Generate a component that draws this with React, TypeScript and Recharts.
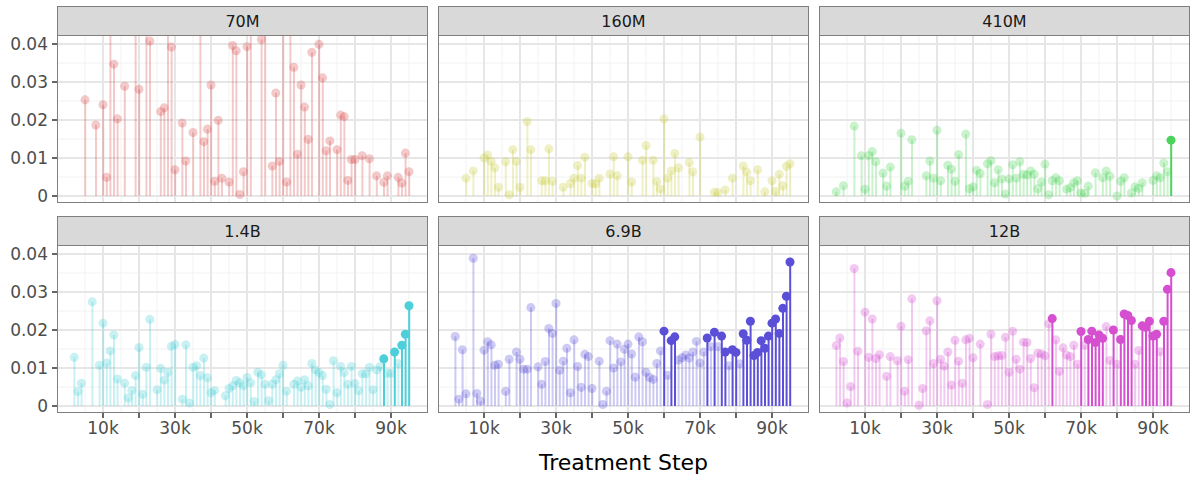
import React from "react";
import {
  ComposedChart,
  Bar,
  Scatter,
  XAxis,
  YAxis,
  CartesianGrid,
  Cell,
} from "recharts";

// Facet labels and colours
const MODELS = ["70M", "160M", "410M", "1.4B", "6.9B", "12B"];
const COLORS = ["#D94C4C", "#C9CC3F", "#4CD35A", "#4CCFD8", "#5B4FD8", "#D54FD0"];

// Steps are in thousands of training steps
const STEPS_70M = [5, 8, 10, 11, 12, 13, 14, 16, 19, 20, 22, 23, 26, 27, 28, 29, 30, 32, 33, 35, 37, 38, 39, 40, 41, 42, 43, 45, 46, 47, 48, 49, 50, 51, 54, 55, 57, 58, 59, 60, 61, 62, 63, 64, 65, 66, 67, 68, 70, 71, 72, 73, 75, 76, 77, 78, 79, 80, 82, 84, 86, 88, 89, 92, 93, 94, 95];
const VALUES_70M = [0.0253, 0.0187, 0.024, 0.0049, 0.055, 0.0347, 0.0203, 0.0289, 0.052, 0.0281, 0.058, 0.0408, 0.0222, 0.0232, 0.05, 0.0392, 0.0069, 0.0192, 0.0092, 0.0167, 0.06, 0.0143, 0.0176, 0.0292, 0.0039, 0.0199, 0.0047, 0.0037, 0.0396, 0.0382, 0.0004, 0.0064, 0.0393, 0.053, 0.0412, 0.056, 0.0079, 0.0271, 0.0091, 0.05, 0.0037, 0.054, 0.0339, 0.011, 0.0292, 0.0234, 0.0149, 0.0378, 0.0399, 0.0311, 0.0119, 0.0145, 0.0122, 0.0213, 0.0209, 0.0041, 0.0096, 0.0096, 0.0106, 0.0098, 0.0053, 0.0036, 0.0053, 0.0049, 0.0034, 0.0113, 0.0064];
const HIGHLIGHT_70M: number[] = [];

const STEPS_160M = [5, 7, 10, 11, 12, 13, 14, 16, 17, 18, 19, 20, 22, 23, 26, 27, 28, 29, 32, 34, 35, 36, 37, 38, 40, 41, 42, 45, 46, 47, 50, 51, 54, 55, 57, 58, 59, 60, 61, 62, 63, 64, 67, 68, 70, 74, 75, 77, 79, 82, 83, 84, 86, 88, 90, 91, 92, 93, 94, 95];
const VALUES_160M = [0.0047, 0.0066, 0.01, 0.0108, 0.0091, 0.0074, 0.0023, 0.009, 0.0003, 0.0122, 0.0091, 0.0023, 0.0196, 0.0122, 0.004, 0.004, 0.0124, 0.0039, 0.0023, 0.0033, 0.0047, 0.008, 0.0047, 0.0102, 0.0033, 0.0032, 0.0047, 0.0058, 0.0103, 0.0053, 0.0103, 0.0037, 0.0094, 0.0133, 0.0094, 0.0038, 0.0018, 0.0203, 0.0047, 0.0066, 0.0112, 0.0074, 0.0088, 0.0064, 0.0155, 0.001, 0.0009, 0.0016, 0.0047, 0.0079, 0.0063, 0.004, 0.0069, 0.0011, 0.004, 0.0012, 0.0057, 0.0027, 0.0078, 0.0085];
const HIGHLIGHT_160M: number[] = [];

const STEPS_410M = [2, 4, 7, 9, 10, 11, 12, 13, 15, 16, 17, 20, 21, 22, 23, 27, 28, 29, 30, 31, 33, 34, 35, 36, 38, 39, 40, 41, 42, 44, 45, 46, 47, 48, 49, 50, 51, 52, 53, 54, 55, 56, 57, 58, 59, 60, 61, 62, 63, 64, 66, 67, 68, 69, 70, 71, 72, 74, 76, 77, 78, 80, 81, 82, 84, 85, 86, 87, 90, 91, 92, 93, 94, 95];
const VALUES_410M = [0.0011, 0.0027, 0.0184, 0.0106, 0.0018, 0.0106, 0.0117, 0.009, 0.006, 0.0026, 0.0076, 0.0165, 0.0026, 0.0039, 0.0148, 0.0053, 0.0092, 0.0047, 0.0173, 0.004, 0.0081, 0.007, 0.0039, 0.0109, 0.0163, 0.0019, 0.0024, 0.0068, 0.0059, 0.0085, 0.0093, 0.0035, 0.0069, 0.0045, 0.0005, 0.0045, 0.0082, 0.0047, 0.009, 0.0057, 0.0055, 0.0066, 0.0057, 0.0019, 0.0037, 0.0084, 0.0003, 0.004, 0.0048, 0.004, 0.0018, 0.0022, 0.0035, 0.004, 0.0008, 0.0007, 0.0026, 0.0061, 0.0048, 0.0066, 0.0052, 0.0, 0.0039, 0.0048, 0.0008, 0.0024, 0.002, 0.0035, 0.0041, 0.0053, 0.0048, 0.0087, 0.0064, 0.0147];
const HIGHLIGHT_410M = [95];

const STEPS_1_4B = [2, 3, 4, 7, 9, 10, 11, 12, 13, 14, 16, 17, 18, 19, 20, 21, 22, 23, 25, 26, 27, 28, 29, 30, 32, 33, 34, 35, 36, 37, 38, 39, 40, 41, 44, 45, 46, 47, 48, 49, 50, 51, 52, 53, 54, 55, 56, 57, 58, 59, 60, 61, 63, 64, 65, 66, 67, 68, 69, 70, 71, 72, 73, 74, 75, 76, 77, 78, 79, 80, 81, 82, 83, 84, 85, 86, 87, 88, 89, 90, 91, 92, 93, 94, 95];
const VALUES_1_4B = [0.0128, 0.0038, 0.006, 0.0274, 0.0107, 0.0218, 0.0113, 0.0145, 0.0187, 0.0071, 0.006, 0.0021, 0.0041, 0.008, 0.0154, 0.0031, 0.0102, 0.0228, 0.0043, 0.0099, 0.0068, 0.0088, 0.0157, 0.0162, 0.0018, 0.0161, 0.0008, 0.0102, 0.0106, 0.008, 0.0126, 0.0074, 0.0035, 0.0041, 0.0027, 0.0046, 0.0053, 0.0067, 0.0061, 0.0053, 0.0075, 0.0061, 0.0012, 0.0089, 0.0082, 0.0057, 0.0014, 0.0057, 0.0069, 0.0085, 0.0107, 0.0039, 0.0057, 0.0066, 0.0049, 0.0069, 0.0053, 0.0112, 0.0095, 0.0088, 0.008, 0.0044, 0.0004, 0.0119, 0.0035, 0.0104, 0.0088, 0.0057, 0.0104, 0.0059, 0.004, 0.0085, 0.0085, 0.0102, 0.0043, 0.0095, 0.0104, 0.0124, 0.0086, 0.0086, 0.0142, 0.0112, 0.016, 0.0189, 0.0264];
const HIGHLIGHT_1_4B = [88, 91, 93, 94, 95];

const STEPS_6_9B = [2, 3, 4, 5, 7, 8, 9, 10, 11, 12, 13, 14, 16, 17, 19, 20, 21, 22, 23, 25, 26, 27, 28, 29, 30, 31, 32, 33, 34, 35, 36, 37, 38, 39, 40, 42, 43, 44, 45, 46, 47, 48, 49, 50, 51, 52, 53, 54, 55, 56, 57, 58, 59, 60, 61, 62, 63, 64, 65, 66, 67, 68, 69, 70, 71, 72, 73, 74, 75, 76, 77, 78, 79, 80, 81, 82, 83, 84, 85, 86, 87, 88, 89, 90, 91, 92, 93, 94, 95];
const VALUES_6_9B = [0.0183, 0.0018, 0.0148, 0.0032, 0.0389, 0.0033, 0.0013, 0.0147, 0.0169, 0.0161, 0.0107, 0.011, 0.0039, 0.0123, 0.0142, 0.0123, 0.0097, 0.0097, 0.0259, 0.0103, 0.0057, 0.0117, 0.0204, 0.0191, 0.027, 0.0094, 0.0118, 0.0152, 0.0035, 0.0174, 0.0104, 0.0049, 0.0136, 0.013, 0.0046, 0.0118, 0.0004, 0.0039, 0.0172, 0.01, 0.0163, 0.0116, 0.0149, 0.0163, 0.0137, 0.0076, 0.0182, 0.0169, 0.0089, 0.0075, 0.007, 0.0112, 0.0145, 0.0197, 0.0081, 0.0172, 0.0182, 0.0121, 0.0127, 0.0134, 0.0126, 0.0142, 0.017, 0.0113, 0.0142, 0.0179, 0.0156, 0.0194, 0.0156, 0.0184, 0.0142, 0.0106, 0.0148, 0.0141, 0.0111, 0.019, 0.0173, 0.0223, 0.0133, 0.0141, 0.0172, 0.0152, 0.0184, 0.0218, 0.0229, 0.0191, 0.0257, 0.0289, 0.0379];
const HIGHLIGHT_6_9B = [60, 62, 63, 72, 74, 76, 77, 79, 80, 82, 83, 84, 85, 86, 87, 88, 89, 90, 91, 92, 93, 94, 95];

const STEPS_12B = [2, 3, 4, 5, 6, 7, 8, 10, 11, 12, 13, 14, 16, 17, 19, 20, 21, 22, 23, 25, 26, 27, 28, 29, 30, 31, 32, 33, 34, 35, 36, 37, 38, 39, 40, 42, 44, 45, 46, 47, 48, 49, 50, 51, 52, 53, 54, 55, 56, 57, 58, 59, 60, 61, 62, 63, 64, 65, 66, 67, 68, 69, 70, 71, 72, 73, 74, 75, 76, 77, 78, 79, 80, 81, 82, 83, 84, 85, 86, 87, 88, 89, 90, 91, 92, 93, 94, 95];
const VALUES_12B = [0.0159, 0.0179, 0.0117, 0.0008, 0.0051, 0.0362, 0.0144, 0.0247, 0.0128, 0.0229, 0.0125, 0.0135, 0.0078, 0.013, 0.0119, 0.021, 0.0039, 0.0122, 0.0282, 0.0002, 0.0046, 0.0198, 0.0224, 0.0112, 0.0277, 0.0123, 0.0105, 0.0142, 0.0055, 0.0173, 0.0118, 0.006, 0.0174, 0.0178, 0.0127, 0.0163, 0.0004, 0.0189, 0.013, 0.0132, 0.0133, 0.0181, 0.0089, 0.0197, 0.0123, 0.0097, 0.0168, 0.0167, 0.0125, 0.0048, 0.0139, 0.0137, 0.0132, 0.0216, 0.023, 0.0174, 0.0091, 0.0153, 0.0134, 0.013, 0.016, 0.011, 0.0196, 0.016, 0.0175, 0.0197, 0.0167, 0.0187, 0.0178, 0.0209, 0.012, 0.02, 0.011, 0.0175, 0.0242, 0.0238, 0.0225, 0.011, 0.0146, 0.0211, 0.0207, 0.0223, 0.0184, 0.0189, 0.0143, 0.0223, 0.0307, 0.0351];
const HIGHLIGHT_12B = [62, 70, 72, 73, 74, 75, 76, 79, 81, 82, 83, 84, 87, 88, 89, 90, 91, 93, 94, 95];

const SERIES = [
  { steps: STEPS_70M, values: VALUES_70M, highlight: HIGHLIGHT_70M },
  { steps: STEPS_160M, values: VALUES_160M, highlight: HIGHLIGHT_160M },
  { steps: STEPS_410M, values: VALUES_410M, highlight: HIGHLIGHT_410M },
  { steps: STEPS_1_4B, values: VALUES_1_4B, highlight: HIGHLIGHT_1_4B },
  { steps: STEPS_6_9B, values: VALUES_6_9B, highlight: HIGHLIGHT_6_9B },
  { steps: STEPS_12B, values: VALUES_12B, highlight: HIGHLIGHT_12B },
];

// Axis breaks
const X_TICKS = [10, 20, 30, 40, 50, 60, 70, 80, 90];
const X_LABELED = [10, 30, 50, 70, 90];
const X_MINOR = [5, 15, 25, 35, 45, 55, 65, 75, 85, 95];
const Y_TICKS = [0, 0.01, 0.02, 0.03, 0.04];
const Y_MINOR = [0.005, 0.015, 0.025, 0.035];

const X_DOMAIN: [number, number] = [-2.78, 100.28];
const Y_DOMAIN: [number, number] = [-0.00184, 0.04237];

// Layout
const FONT = "'DejaVu Sans', sans-serif";
const COL_LEFT = [57, 438, 819];
const PLOT_TOP = [35, 245];
const STRIP_TOP = [6, 216];
const STRIP_H = 30;
const PW = 371;
const PH = 168;
const Y_AXIS_W = 49;
const X_AXIS_H = 36;
const PAD = 10; // room under the top row so its lowest tick label is not clipped

const FAINT = 0.3;

function scaleOr(axis: any, v: number, fallback: () => number) {
  if (axis && typeof axis.scale === "function") {
    const r = axis.scale(v);
    if (typeof r === "number" && !isNaN(r)) return r;
  }
  return fallback();
}

function makeVGen(values: number[]) {
  return (props: any) => {
    const { xAxis, offset } = props;
    return values.map((v) =>
      scaleOr(xAxis, v, () =>
        offset.left + (offset.width * (v - X_DOMAIN[0])) / (X_DOMAIN[1] - X_DOMAIN[0])
      )
    );
  };
}

function makeHGen(values: number[]) {
  return (props: any) => {
    const { yAxis, offset } = props;
    return values.map((v) =>
      scaleOr(yAxis, v, () =>
        offset.top + offset.height * (1 - (v - Y_DOMAIN[0]) / (Y_DOMAIN[1] - Y_DOMAIN[0]))
      )
    );
  };
}

const majorV = makeVGen(X_TICKS);
const minorV = makeVGen(X_MINOR);
const majorH = makeHGen(Y_TICKS);
const minorH = makeHGen(Y_MINOR);

function Panel({ index }: { index: number }) {
  const col = index % 3;
  const row = Math.floor(index / 3);
  const showY = col === 0;
  const showX = row === 1;
  const color = COLORS[index];
  const s = SERIES[index];
  const rows = s.steps.map((step, i) => ({
    step,
    value: s.values[i],
    hi: s.highlight.includes(step),
  }));
  const yW = showY ? Y_AXIS_W : 0;
  const xH = showX ? X_AXIS_H : 0;
  const bottomPad = showX ? 0 : PAD;
  const left = COL_LEFT[col];
  const top = PLOT_TOP[row];

  return (
    <>
      <div
        style={{
          position: "absolute",
          left: left,
          top: STRIP_TOP[row],
          width: PW,
          height: STRIP_H,
          boxSizing: "border-box",
          background: "#D9D9D9",
          border: "1.5px solid #7F7F7F",
          display: "flex",
          alignItems: "center",
          justifyContent: "center",
          fontFamily: FONT,
          fontSize: 16,
          color: "#1A1A1A",
        }}
      >
        {MODELS[index]}
      </div>
      <div style={{ position: "absolute", left: left - yW, top }}>
        <ComposedChart
          width={PW + yW}
          height={PH + xH + bottomPad}
          data={rows}
          margin={{ top: 0, right: 0, bottom: bottomPad, left: 0 }}
        >
          <CartesianGrid
            stroke="#F2F2F2"
            strokeWidth={1}
            verticalCoordinatesGenerator={minorV}
            horizontalCoordinatesGenerator={minorH}
          />
          <CartesianGrid
            stroke="#E6E6E6"
            strokeWidth={2}
            verticalCoordinatesGenerator={majorV}
            horizontalCoordinatesGenerator={majorH}
          />
          <XAxis
            dataKey="step"
            type="number"
            domain={X_DOMAIN}
            allowDataOverflow
            ticks={X_TICKS}
            interval={0}
            hide={!showX}
            height={xH}
            axisLine={false}
            tickLine={{ stroke: "#333333", strokeWidth: 1.5 }}
            tickSize={5}
            tickMargin={4}
            tick={{ fill: "#4D4D4D", fontSize: 17, fontFamily: FONT }}
            tickFormatter={(v: number) => (X_LABELED.includes(v) ? `${v}k` : "")}
          />
          <YAxis
            type="number"
            domain={Y_DOMAIN}
            allowDataOverflow
            ticks={Y_TICKS}
            interval={0}
            hide={!showY}
            width={yW}
            axisLine={false}
            tickLine={{ stroke: "#333333", strokeWidth: 1.5 }}
            tickSize={5}
            tickMargin={4}
            tick={{ fill: "#4D4D4D", fontSize: 17, fontFamily: FONT }}
            tickFormatter={(v: number) => (v === 0 ? "0" : v.toFixed(2))}
          />
          <Bar dataKey="value" barSize={2} isAnimationActive={false}>
            {rows.map((r, i) => (
              <Cell key={i} fill={color} fillOpacity={r.hi ? 1 : FAINT} />
            ))}
          </Bar>
          <Scatter dataKey="value" isAnimationActive={false}>
            {rows.map((r, i) => (
              <Cell key={i} fill={color} fillOpacity={r.hi ? 1 : FAINT} />
            ))}
          </Scatter>
        </ComposedChart>
      </div>
      <div
        style={{
          position: "absolute",
          left,
          top,
          width: PW,
          height: PH,
          boxSizing: "border-box",
          border: "1.5px solid #7F7F7F",
          pointerEvents: "none",
        }}
      />
    </>
  );
}

export default function App() {
  return (
    <div
      style={{
        position: "absolute",
        left: 0,
        top: 0,
        width: 1192,
        height: 477,
        background: "#FFFFFF",
        overflow: "hidden",
      }}
    >
      {MODELS.map((_, i) => (
        <Panel key={i} index={i} />
      ))}
      <div
        style={{
          position: "absolute",
          left: 57,
          width: 1133,
          top: 450,
          textAlign: "center",
          fontFamily: FONT,
          fontSize: 22,
          color: "#000000",
        }}
      >
        Treatment Step
      </div>
    </div>
  );
}
